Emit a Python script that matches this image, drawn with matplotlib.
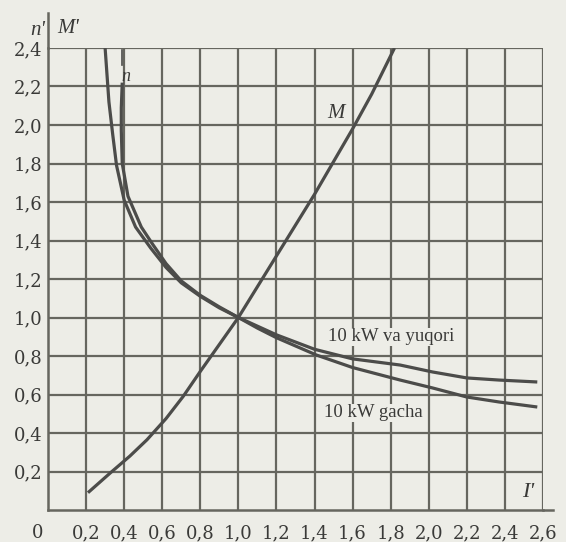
import numpy as np
import matplotlib.pyplot as plt

# current ratio I' and the two speed curves n' plus torque M'
I_up = [0.30, 0.32, 0.34, 0.36, 0.40, 0.46, 0.54, 0.62, 0.70, 0.80, 0.90, 1.00,
        1.10, 1.20, 1.40, 1.60, 1.85, 2.02, 2.20, 2.37, 2.57]
n_up = [2.40, 2.12, 1.95, 1.79, 1.61, 1.47, 1.36, 1.26, 1.18, 1.11, 1.05, 1.00,
        0.955, 0.91, 0.835, 0.785, 0.753, 0.717, 0.686, 0.675, 0.665]

I_low = [0.39, 0.385, 0.385, 0.39, 0.42, 0.49, 0.55, 0.62, 0.70, 0.80, 0.90, 1.00,
         1.10, 1.20, 1.41, 1.60, 1.85, 2.02, 2.20, 2.37, 2.57]
n_low = [2.22, 2.09, 1.97, 1.80, 1.63, 1.47, 1.38, 1.28, 1.19, 1.115, 1.055, 1.00,
         0.945, 0.895, 0.805, 0.74, 0.675, 0.634, 0.587, 0.561, 0.535]

I_M = [0.21, 0.33, 0.43, 0.52, 0.62, 0.71, 0.80, 0.90, 1.00, 1.10, 1.20,
       1.30, 1.40, 1.50, 1.60, 1.70, 1.82]
M = [0.09, 0.195, 0.28, 0.365, 0.475, 0.59, 0.72, 0.86, 1.00, 1.16, 1.32,
     1.48, 1.64, 1.81, 1.98, 2.16, 2.40]

x_ticks = [0.2, 0.4, 0.6, 0.8, 1.0, 1.2, 1.4, 1.6, 1.8, 2.0, 2.2, 2.4, 2.6]
y_ticks = [0.2, 0.4, 0.6, 0.8, 1.0, 1.2, 1.4, 1.6, 1.8, 2.0, 2.2, 2.4]

bg = '#edede7'
grid_c = '#66665f'
line_c = '#4c4c4a'
txt_c = '#3a3a38'

fig = plt.figure(figsize=(5.66, 5.42), dpi=100, facecolor=bg)
ax = fig.add_axes([48/566, 32/542, 495/566, 462/542], facecolor=bg)
ax.set_xlim(0, 2.6)
ax.set_ylim(0, 2.4)

# grid
for x in x_ticks:
    ax.axvline(x, color=grid_c, lw=1.6, zorder=1)
for y in y_ticks:
    ax.axhline(y, color=grid_c, lw=1.6, zorder=1)

for s in ['top', 'right']:
    ax.spines[s].set_visible(False)
for s in ['left', 'bottom']:
    ax.spines[s].set_color(grid_c)
    ax.spines[s].set_linewidth(1.8)
# axis lines run a bit past the grid
ax.plot([0, 0], [2.4, 2.58], color=grid_c, lw=1.8, clip_on=False)
ax.plot([2.6, 2.655], [0, 0], color=grid_c, lw=1.8, clip_on=False)

ax.plot(I_up, n_up, color=line_c, lw=2.3, zorder=3, solid_capstyle='butt')
ax.plot(I_low, n_low, color=line_c, lw=2.3, zorder=3, solid_capstyle='butt')
ax.plot(I_M, M, color=line_c, lw=2.3, zorder=3, solid_capstyle='butt')

ax.set_xticks(x_ticks)
ax.set_xticklabels([f'{v:.1f}'.replace('.', ',') for v in x_ticks])
ax.set_yticks(y_ticks)
ax.set_yticklabels([f'{v:.1f}'.replace('.', ',') for v in y_ticks])
ax.tick_params(length=0, labelsize=13, colors=txt_c)
ax.tick_params(axis='x', pad=10)
ax.tick_params(axis='y', pad=4)
for lab in ax.get_xticklabels() + ax.get_yticklabels():
    lab.set_family('DejaVu Serif')
ax.text(-0.055, -0.12, '0', fontsize=13, family='DejaVu Serif', color=txt_c,
        ha='center', va='center', clip_on=False)

# labels
tf = dict(family='Liberation Serif', color=txt_c)
ax.text(-0.012, 2.49, "n'", fontsize=15, style='italic', ha='right', va='center', **tf)
ax.text(0.05, 2.50, "M'", fontsize=15, style='italic', ha='left', va='center', **tf)
ax.text(2.52, 0.09, "I'", fontsize=16, style='italic', ha='center', va='center', **tf)
ax.text(1.51, 2.06, 'M', fontsize=15, style='italic', ha='center', va='center', **tf)
ax.plot([0.389, 0.389], [2.31, 2.39], color=line_c, lw=1.2, zorder=3)
ax.text(0.41, 2.25, 'n', fontsize=13, style='italic', ha='center', va='center', **tf)
ax.text(1.80, 0.90, '10 kW va yuqori', fontsize=13.5, ha='center', va='center', zorder=4,
        bbox=dict(facecolor=bg, edgecolor='none', pad=0.5), **tf)
ax.text(1.71, 0.505, '10 kW gacha', fontsize=13.5, ha='center', va='center', zorder=4,
        bbox=dict(facecolor=bg, edgecolor='none', pad=0.5), **tf)

fig.savefig('out.png', dpi=100, facecolor=bg)
